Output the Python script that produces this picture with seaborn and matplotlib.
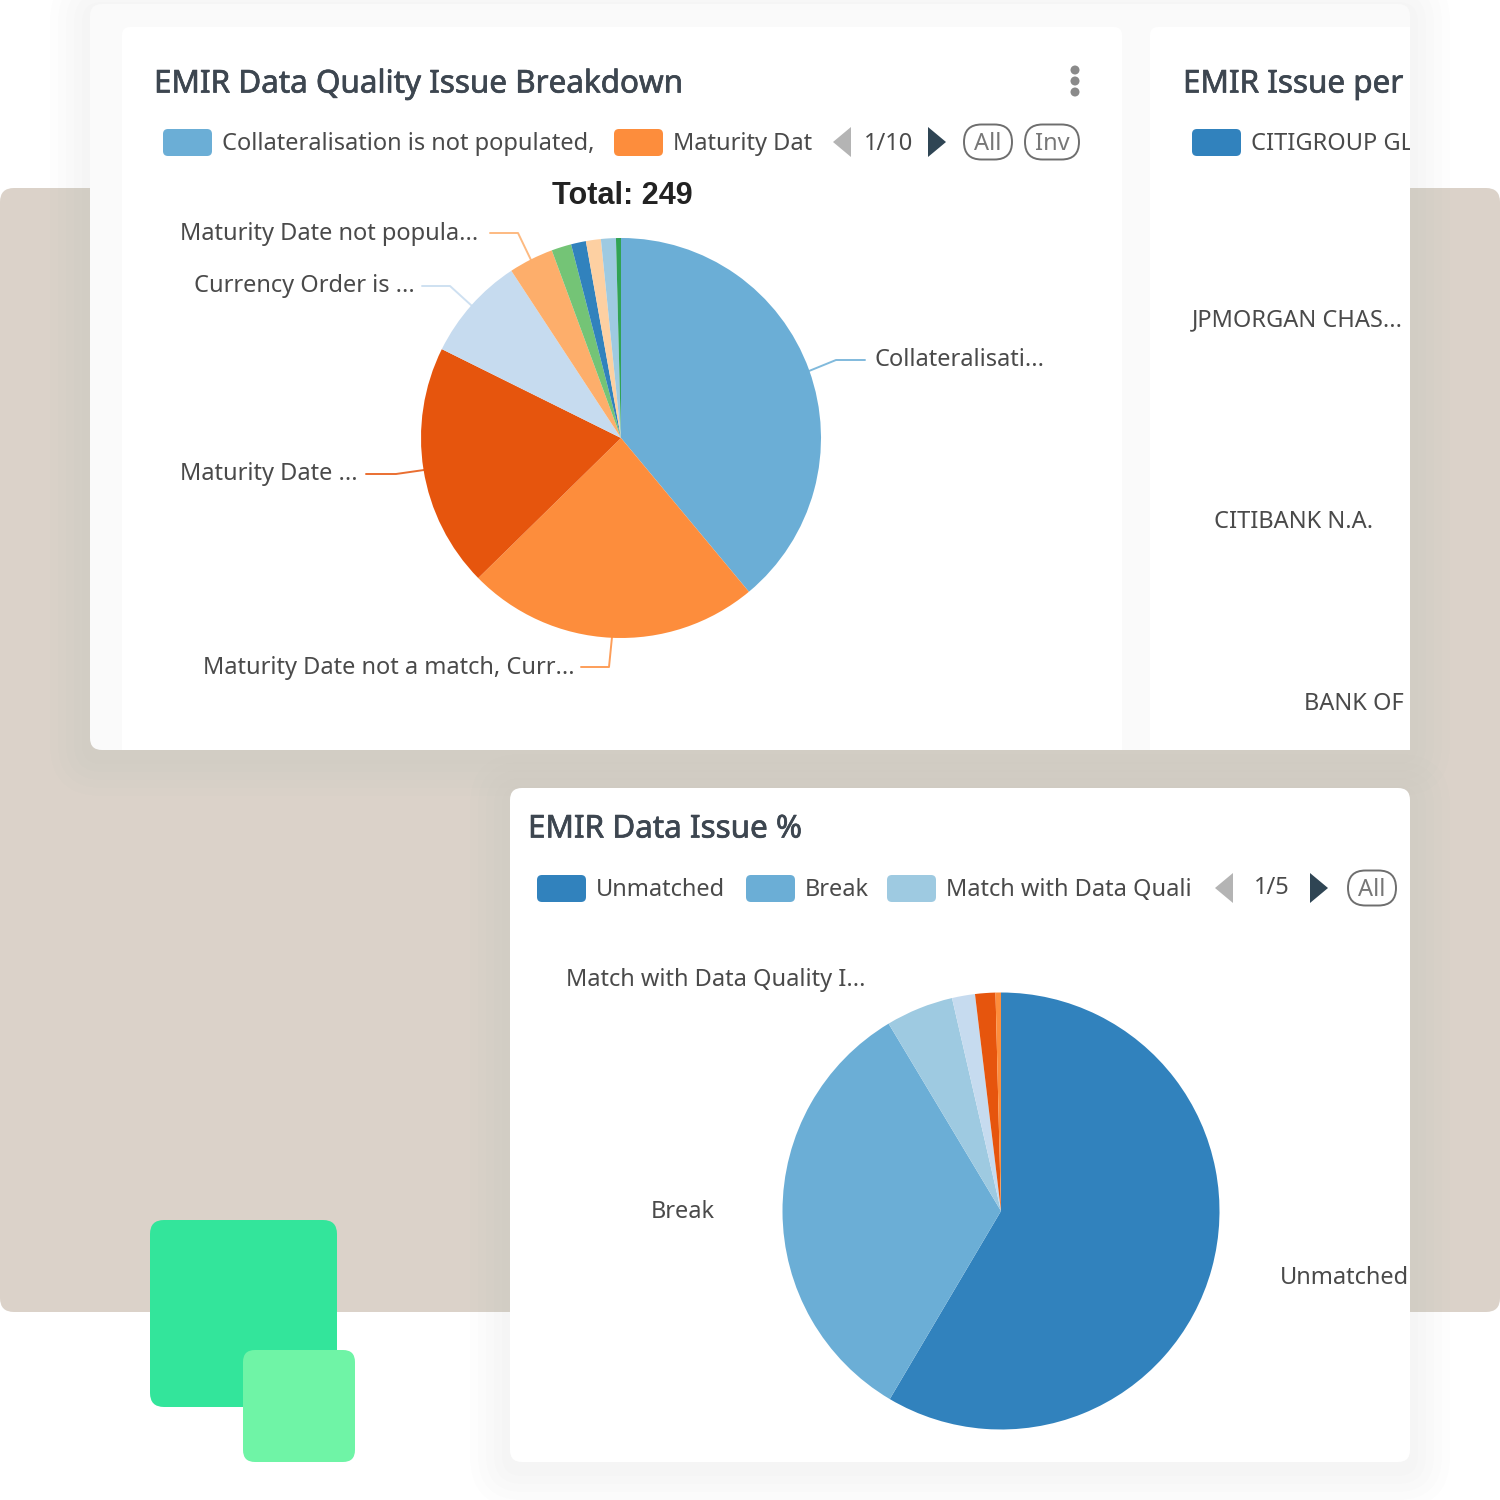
import matplotlib
matplotlib.use("Agg")
import matplotlib.pyplot as plt
import matplotlib.patheffects as pe
import seaborn as sns
from matplotlib.patches import FancyBboxPatch, Polygon, Circle, Rectangle

# pie data
issue_labels = ['Collateralisation', 'Maturity not a match, Curr', 'Maturity Date', 'Currency Order',
                'Maturity not populated', 'Other 1', 'Other 2', 'Other 3', 'Other 4', 'Other 5']
issue_counts = [97, 59, 49, 21, 9, 4, 3, 3, 3, 1]
issue_palette_idx = [1, 5, 4, 3, 6, 9, 0, 7, 2, 8]

status_labels = ['Unmatched', 'Break', 'Match with Data Quality', 'Other 1', 'Other 2', 'Other 3']
status_pct = [58.5, 32.9, 5.0, 1.7, 1.5, 0.4]
status_palette_idx = [0, 1, 2, 3, 4, 5]

sns.set_theme(style="white")
plt.rcParams['font.family'] = ['Noto Sans', 'DejaVu Sans']
# tab20c order: blues 0-3, oranges 4-7, greens 8-11
tab = sns.color_palette("tab20c", 20)[:10]
TEXT = '#4a4a4a'
TITLE = '#3d4650'
LABEL_PX = 23.6


def px(v):
    return v * 0.72


def rbox(ax, x0, y0, x1, y1, r, zorder=1, **kw):
    p = FancyBboxPatch((x0 + r, y0 + r), x1 - x0 - 2 * r, y1 - y0 - 2 * r,
                       boxstyle=f"round,pad={r},rounding_size={r}", linewidth=kw.pop('lw', 0),
                       zorder=zorder, **kw)
    ax.add_patch(p)
    return p


def shadow(ax, x0, y0, x1, y1, r, spread=40, dy=6):
    # few layers, 8 bit blending eats very low alphas
    for s in range(spread, 0, -8):
        rbox(ax, x0 - s, y0 - s + dy, x1 + s, y1 + s + dy, r + s, zorder=2, fc='#555555', alpha=0.006)


def label(ax, x, y, s, size=LABEL_PX, ha='left', color=TEXT, clip=None, **kw):
    t = ax.text(x, y + 4.5, s, fontsize=px(size), ha=ha, va='center', color=color, zorder=6, **kw)
    if clip is not None:
        t.set_clip_path(clip)
        t.set_clip_on(True)
    return t


def title(ax, x, y, s, clip=None):
    # medium weight: regular face with a thin stroke
    t = label(ax, x, y, s, size=31.4, color=TITLE, clip=clip)
    t.set_path_effects([pe.withStroke(linewidth=0.5, foreground=TITLE)])
    return t


def legend_item(ax, x, y, color, s, clip=None):
    rbox(ax, x, y - 13, x + 49, y + 14, 5, zorder=5, fc=color)
    label(ax, x + 59, y - 3, s, clip=clip)


def arrows(ax, xl, xr, y):
    ax.add_patch(Polygon([[xl + 18, y - 15], [xl + 18, y + 15], [xl, y]], fc='#b4b4b4', ec='none', zorder=5))
    ax.add_patch(Polygon([[xr, y - 15], [xr, y + 15], [xr + 18, y]], fc='#2f4554', ec='none', zorder=5))


def pill(ax, x0, x1, y, s):
    rbox(ax, x0, y - 17.5, x1, y + 17.5, 17.5, zorder=5, fc='none', ec='#6e6e6e', lw=1.4)
    label(ax, (x0 + x1) / 2, y - 3, s, size=LABEL_PX, ha='center', color='#777777')


def draw_pie(fig, cx, cy, r, values, colors):
    pie_ax = fig.add_axes([(cx - r) / 1500, 1 - (cy + r) / 1500, 2 * r / 1500, 2 * r / 1500])
    pie_ax.pie(values, colors=colors, startangle=90, counterclock=False, radius=1,
               wedgeprops={'linewidth': 0, 'edgecolor': 'none'})
    pie_ax.set_xlim(-1, 1)
    pie_ax.set_ylim(-1, 1)
    pie_ax.patch.set_alpha(0)
    return pie_ax


def leader(ax, xs, ys, color):
    ax.plot(xs, ys, color=color, lw=1.4, alpha=0.85, zorder=5, solid_capstyle='round')


fig = plt.figure(figsize=(15, 15), dpi=100, facecolor='white')
ax = fig.add_axes([0, 0, 1, 1])
ax.set_xlim(0, 1500)
ax.set_ylim(1500, 0)
ax.axis('off')

# page background
rbox(ax, 0, 188, 1500, 1312, 14, zorder=1, fc='#dbd2c9')

# upper card
upper_clip = Rectangle((90, 0), 1320, 750, transform=ax.transData)
shadow(ax, 90, 4, 1410, 750, 12)
rbox(ax, 90, 4, 1410, 750, 12, zorder=3, fc='#fafafa')
rbox(ax, 122, 27, 1122, 780, 8, zorder=3, fc='white').set_clip_path(upper_clip)
rbox(ax, 1150, 27, 1440, 780, 8, zorder=3, fc='white').set_clip_path(upper_clip)

# lower card
lower_clip = Rectangle((510, 788), 900, 674, transform=ax.transData)
shadow(ax, 510, 788, 1410, 1462, 12)
rbox(ax, 510, 788, 1410, 1462, 12, zorder=3, fc='white')

# green squares
rbox(ax, 150, 1220, 337, 1407, 14, zorder=4, fc='#33e59b')
rbox(ax, 243, 1350, 355, 1462, 12, zorder=4, fc='#6ff4a6')

# panel 1 header
title(ax, 154, 80, 'EMIR Data Quality Issue Breakdown')
for yy in (70, 81, 92):
    ax.add_patch(Circle((1075, yy), 4.5, fc='#8a8a8a', ec='none', zorder=5))
legend_item(ax, 163, 142, tab[1], 'Collateralisation is not populated,')
legend_item(ax, 614, 142, tab[5], 'Maturity Dat')
arrows(ax, 833, 928, 142)
label(ax, 889, 139, '1/10', ha='center')
pill(ax, 964, 1012, 142, 'All')
pill(ax, 1025, 1079, 142, 'Inv')
label(ax, 622, 191, 'Total: 249', size=30.6, ha='center', color='#222222',
      fontweight='bold', family='Liberation Sans')

# panel 1 labels
label(ax, 180, 230, 'Maturity Date not popula...')
label(ax, 194, 282, 'Currency Order is ...')
label(ax, 875, 356, 'Collateralisati...')
label(ax, 180, 470, 'Maturity Date ...')
label(ax, 203, 663, 'Maturity Date not a match, Curr...')
leader(ax, [490, 518, 531], [233, 233, 260], tab[6])
leader(ax, [422, 450, 472], [286, 286, 306], tab[3])
leader(ax, [865, 836, 809], [360, 360, 371], tab[1])
leader(ax, [366, 396, 424], [474, 474, 470], tab[4])
leader(ax, [581, 609, 612], [667, 667, 637], tab[5])

# panel 2, cut off on the right
title(ax, 1183, 80, 'EMIR Issue per', clip=upper_clip)
legend_item(ax, 1192, 142, tab[0], 'CITIGROUP GL', clip=upper_clip)
label(ax, 1192, 316, 'JPMORGAN CHAS...', clip=upper_clip)
label(ax, 1214, 517, 'CITIBANK N.A.', clip=upper_clip)
label(ax, 1304, 699, 'BANK OF', clip=upper_clip)

# panel 3 header
title(ax, 528, 825, 'EMIR Data Issue %')
legend_item(ax, 537, 888, tab[0], 'Unmatched')
legend_item(ax, 746, 888, tab[1], 'Break')
legend_item(ax, 887, 888, tab[2], 'Match with Data Quali')
arrows(ax, 1215, 1310, 888)
label(ax, 1272, 884, '1/5', ha='center')
pill(ax, 1348, 1396, 888, 'All')
label(ax, 566, 976, 'Match with Data Quality I...')
label(ax, 651, 1208, 'Break')
label(ax, 1280, 1273, 'Unmatched', clip=lower_clip)

draw_pie(fig, 621, 438, 200, issue_counts, [tab[i] for i in issue_palette_idx])
draw_pie(fig, 1001, 1211, 218.5, status_pct, [tab[i] for i in status_palette_idx])

fig.savefig('out.png', dpi=100, facecolor='white')
